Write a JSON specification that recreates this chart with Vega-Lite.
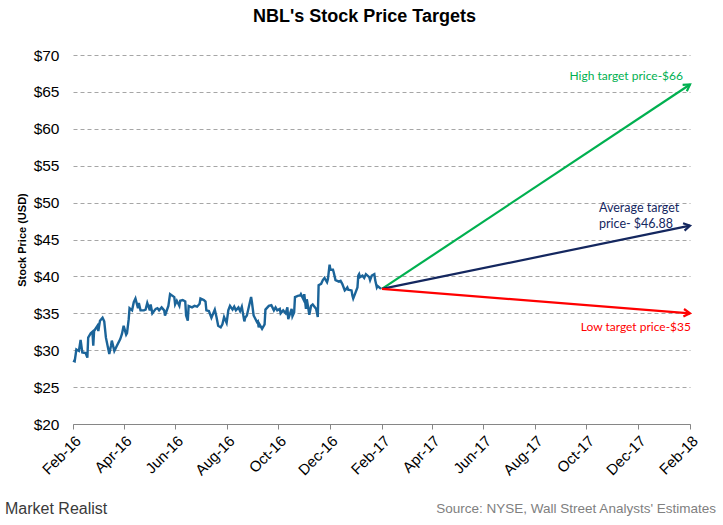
{
  "$schema": "https://vega.github.io/schema/vega-lite/v6.json",
  "width": 617,
  "height": 369,
  "autosize": "none",
  "padding": {"left": 73, "top": 55, "right": 33, "bottom": 101},
  "background": "white",
  "config": {"view": {"stroke": null}, "font": "Liberation Sans"},
  "title": {
    "text": "NBL's Stock Price Targets",
    "font": "Liberation Sans",
    "fontSize": 18,
    "fontWeight": "bold",
    "color": "#000000",
    "anchor": "middle",
    "dx": -17,
    "offset": 22
  },
  "datasets": {
    "stock": [
      {"date": "2016-02-01", "price": 28.6},
      {"date": "2016-02-03", "price": 28.5},
      {"date": "2016-02-05", "price": 30.1},
      {"date": "2016-02-08", "price": 29.9},
      {"date": "2016-02-10", "price": 31.4},
      {"date": "2016-02-12", "price": 29.7},
      {"date": "2016-02-16", "price": 29.6},
      {"date": "2016-02-18", "price": 29.0},
      {"date": "2016-02-19", "price": 31.7},
      {"date": "2016-02-22", "price": 32.3},
      {"date": "2016-02-24", "price": 32.5},
      {"date": "2016-02-25", "price": 30.6},
      {"date": "2016-02-26", "price": 32.6},
      {"date": "2016-03-01", "price": 33.3},
      {"date": "2016-03-02", "price": 32.6},
      {"date": "2016-03-04", "price": 34.0},
      {"date": "2016-03-07", "price": 34.4},
      {"date": "2016-03-09", "price": 33.9},
      {"date": "2016-03-11", "price": 31.7},
      {"date": "2016-03-15", "price": 29.5},
      {"date": "2016-03-17", "price": 30.6},
      {"date": "2016-03-18", "price": 31.3},
      {"date": "2016-03-21", "price": 29.9},
      {"date": "2016-03-24", "price": 30.6},
      {"date": "2016-03-28", "price": 31.5},
      {"date": "2016-03-30", "price": 32.2},
      {"date": "2016-04-01", "price": 33.3},
      {"date": "2016-04-04", "price": 32.1},
      {"date": "2016-04-05", "price": 32.3},
      {"date": "2016-04-07", "price": 34.2},
      {"date": "2016-04-08", "price": 35.7},
      {"date": "2016-04-11", "price": 35.4},
      {"date": "2016-04-13", "price": 36.5},
      {"date": "2016-04-15", "price": 37.0},
      {"date": "2016-04-18", "price": 35.7},
      {"date": "2016-04-19", "price": 36.4},
      {"date": "2016-04-21", "price": 35.4},
      {"date": "2016-04-25", "price": 35.4},
      {"date": "2016-04-27", "price": 35.5},
      {"date": "2016-04-29", "price": 36.4},
      {"date": "2016-05-02", "price": 35.4},
      {"date": "2016-05-03", "price": 36.2},
      {"date": "2016-05-05", "price": 35.0},
      {"date": "2016-05-09", "price": 35.6},
      {"date": "2016-05-11", "price": 35.7},
      {"date": "2016-05-13", "price": 35.4},
      {"date": "2016-05-16", "price": 35.8},
      {"date": "2016-05-19", "price": 35.4},
      {"date": "2016-05-20", "price": 34.7},
      {"date": "2016-05-24", "price": 36.0},
      {"date": "2016-05-26", "price": 37.6},
      {"date": "2016-05-31", "price": 37.2},
      {"date": "2016-06-01", "price": 36.2},
      {"date": "2016-06-03", "price": 36.7},
      {"date": "2016-06-06", "price": 36.0},
      {"date": "2016-06-07", "price": 36.7},
      {"date": "2016-06-10", "price": 36.8},
      {"date": "2016-06-13", "price": 36.6},
      {"date": "2016-06-14", "price": 34.7},
      {"date": "2016-06-16", "price": 34.0},
      {"date": "2016-06-17", "price": 36.0},
      {"date": "2016-06-21", "price": 35.8},
      {"date": "2016-06-24", "price": 36.0},
      {"date": "2016-06-27", "price": 35.9},
      {"date": "2016-06-30", "price": 36.3},
      {"date": "2016-07-01", "price": 37.0},
      {"date": "2016-07-05", "price": 36.8},
      {"date": "2016-07-07", "price": 36.6},
      {"date": "2016-07-08", "price": 35.4},
      {"date": "2016-07-11", "price": 35.3},
      {"date": "2016-07-14", "price": 34.4},
      {"date": "2016-07-18", "price": 35.5},
      {"date": "2016-07-20", "price": 34.5},
      {"date": "2016-07-22", "price": 33.3},
      {"date": "2016-07-25", "price": 33.1},
      {"date": "2016-07-27", "price": 33.5},
      {"date": "2016-07-29", "price": 34.5},
      {"date": "2016-08-01", "price": 33.7},
      {"date": "2016-08-03", "price": 35.4},
      {"date": "2016-08-05", "price": 36.0},
      {"date": "2016-08-08", "price": 35.5},
      {"date": "2016-08-10", "price": 35.9},
      {"date": "2016-08-12", "price": 35.4},
      {"date": "2016-08-15", "price": 35.8},
      {"date": "2016-08-17", "price": 35.3},
      {"date": "2016-08-19", "price": 35.9},
      {"date": "2016-08-22", "price": 33.9},
      {"date": "2016-08-23", "price": 34.4},
      {"date": "2016-08-25", "price": 34.7},
      {"date": "2016-08-26", "price": 35.2},
      {"date": "2016-08-30", "price": 37.2},
      {"date": "2016-08-31", "price": 36.5},
      {"date": "2016-09-02", "price": 34.7},
      {"date": "2016-09-06", "price": 33.8},
      {"date": "2016-09-07", "price": 33.9},
      {"date": "2016-09-08", "price": 33.1},
      {"date": "2016-09-09", "price": 33.5},
      {"date": "2016-09-12", "price": 32.9},
      {"date": "2016-09-15", "price": 33.5},
      {"date": "2016-09-16", "price": 35.5},
      {"date": "2016-09-20", "price": 36.0},
      {"date": "2016-09-23", "price": 36.1},
      {"date": "2016-09-26", "price": 35.4},
      {"date": "2016-09-28", "price": 35.8},
      {"date": "2016-09-30", "price": 35.4},
      {"date": "2016-10-03", "price": 35.6},
      {"date": "2016-10-04", "price": 35.0},
      {"date": "2016-10-07", "price": 35.4},
      {"date": "2016-10-10", "price": 35.0},
      {"date": "2016-10-12", "price": 35.8},
      {"date": "2016-10-13", "price": 34.2},
      {"date": "2016-10-17", "price": 35.6},
      {"date": "2016-10-18", "price": 34.6},
      {"date": "2016-10-20", "price": 35.1},
      {"date": "2016-10-21", "price": 37.2},
      {"date": "2016-10-25", "price": 37.4},
      {"date": "2016-10-27", "price": 37.4},
      {"date": "2016-10-28", "price": 37.6},
      {"date": "2016-10-31", "price": 36.9},
      {"date": "2016-11-01", "price": 37.6},
      {"date": "2016-11-03", "price": 35.6},
      {"date": "2016-11-04", "price": 36.9},
      {"date": "2016-11-07", "price": 34.8},
      {"date": "2016-11-09", "price": 36.0},
      {"date": "2016-11-11", "price": 36.2},
      {"date": "2016-11-15", "price": 35.6},
      {"date": "2016-11-17", "price": 34.5},
      {"date": "2016-11-18", "price": 38.8},
      {"date": "2016-11-21", "price": 39.0},
      {"date": "2016-11-23", "price": 39.5},
      {"date": "2016-11-25", "price": 39.8},
      {"date": "2016-11-28", "price": 39.2},
      {"date": "2016-11-29", "price": 39.6},
      {"date": "2016-12-01", "price": 41.6},
      {"date": "2016-12-02", "price": 40.9},
      {"date": "2016-12-05", "price": 40.9},
      {"date": "2016-12-06", "price": 40.5},
      {"date": "2016-12-08", "price": 39.5},
      {"date": "2016-12-12", "price": 39.3},
      {"date": "2016-12-14", "price": 39.4},
      {"date": "2016-12-16", "price": 39.0},
      {"date": "2016-12-19", "price": 38.1},
      {"date": "2016-12-20", "price": 38.2},
      {"date": "2016-12-22", "price": 38.5},
      {"date": "2016-12-23", "price": 38.2},
      {"date": "2016-12-27", "price": 38.1},
      {"date": "2016-12-28", "price": 37.4},
      {"date": "2016-12-29", "price": 37.0},
      {"date": "2016-12-30", "price": 37.3},
      {"date": "2017-01-03", "price": 38.5},
      {"date": "2017-01-04", "price": 40.1},
      {"date": "2017-01-05", "price": 40.3},
      {"date": "2017-01-06", "price": 39.9},
      {"date": "2017-01-09", "price": 40.1},
      {"date": "2017-01-11", "price": 39.8},
      {"date": "2017-01-13", "price": 40.3},
      {"date": "2017-01-17", "price": 39.9},
      {"date": "2017-01-18", "price": 39.5},
      {"date": "2017-01-20", "price": 40.1},
      {"date": "2017-01-23", "price": 40.3},
      {"date": "2017-01-24", "price": 39.5},
      {"date": "2017-01-26", "price": 38.5},
      {"date": "2017-01-27", "price": 38.7},
      {"date": "2017-01-31", "price": 38.3}
    ],
    "targets": [
      {"series": "High", "date": "2017-02-01", "price": 38.3},
      {"series": "High", "date": "2018-02-01", "price": 66},
      {"series": "Average", "date": "2017-02-01", "price": 38.3},
      {"series": "Average", "date": "2018-02-01", "price": 46.88},
      {"series": "Low", "date": "2017-02-01", "price": 38.3},
      {"series": "Low", "date": "2018-02-01", "price": 35}
    ]
  },
  "encoding": {
    "x": {
      "field": "date",
      "type": "temporal",
      "scale": {"type": "utc", "domain": [{"year": 2016, "month": 2, "date": 1, "utc": true}, {"year": 2018, "month": 2, "date": 1, "utc": true}]},
      "axis": {
        "title": null,
        "values": [
          {"year": 2016, "month": 2, "date": 1, "utc": true},
          {"year": 2016, "month": 4, "date": 1, "utc": true},
          {"year": 2016, "month": 6, "date": 1, "utc": true},
          {"year": 2016, "month": 8, "date": 1, "utc": true},
          {"year": 2016, "month": 10, "date": 1, "utc": true},
          {"year": 2016, "month": 12, "date": 1, "utc": true},
          {"year": 2017, "month": 2, "date": 1, "utc": true},
          {"year": 2017, "month": 4, "date": 1, "utc": true},
          {"year": 2017, "month": 6, "date": 1, "utc": true},
          {"year": 2017, "month": 8, "date": 1, "utc": true},
          {"year": 2017, "month": 10, "date": 1, "utc": true},
          {"year": 2017, "month": 12, "date": 1, "utc": true},
          {"year": 2018, "month": 2, "date": 1, "utc": true}
        ],
        "labelExpr": "utcFormat(datum.value, '%b-%y')",
        "labelAngle": -45,
        "labelFont": "Liberation Sans",
        "labelFontSize": 15,
        "labelColor": "#000000",
        "labelPadding": 4,
        "labelOverlap": false,
        "labelFlush": false,
        "domainColor": "#868686",
        "tickColor": "#868686",
        "tickSize": 5,
        "grid": false
      }
    },
    "y": {
      "field": "price",
      "type": "quantitative",
      "scale": {"domain": [20, 70], "nice": false, "zero": false},
      "axis": {
        "title": "Stock Price (USD)",
        "titleFont": "Liberation Sans",
        "titleFontSize": 11,
        "titleFontWeight": "bold",
        "titleColor": "#000000",
        "titlePadding": 6,
        "values": [20, 25, 30, 35, 40, 45, 50, 55, 60, 65, 70],
        "format": "$,.0f",
        "labelFont": "Liberation Sans",
        "labelFontSize": 15.5,
        "labelColor": "#000000",
        "labelPadding": 14,
        "domain": false,
        "ticks": false,
        "grid": true,
        "gridColor": "#a6a6a6",
        "gridDash": [4, 3],
        "gridWidth": 1
      }
    }
  },
  "layer": [
    {
      "data": {"name": "stock"},
      "mark": {"type": "line", "color": "#1b6499", "strokeWidth": 2.4, "interpolate": "linear"}
    },
    {
      "data": {"name": "targets"},
      "mark": {"type": "line", "strokeWidth": 2.2},
      "encoding": {
        "detail": {"field": "series"},
        "color": {"field": "series", "type": "nominal", "scale": {"domain": ["High", "Average", "Low"], "range": ["#00b050", "#14275f", "#ff0000"]}, "legend": null}
      }
    },
    {
      "data": {"name": "targets"},
      "transform": [{"filter": "datum.series == 'High' && datum.price != 38.3"}],
      "mark": {"type": "point", "shape": "M -1 -0.6 L 0 0 L -1 0.6", "size": 160, "filled": false, "strokeWidth": 2.2, "color": "#00b050", "opacity": 1, "angle": -33.5}
    },
    {
      "data": {"name": "targets"},
      "transform": [{"filter": "datum.series == 'Average' && datum.price != 38.3"}],
      "mark": {"type": "point", "shape": "M -1 -0.6 L 0 0 L -1 0.6", "size": 160, "filled": false, "strokeWidth": 2.2, "color": "#14275f", "opacity": 1, "angle": -11.6}
    },
    {
      "data": {"name": "targets"},
      "transform": [{"filter": "datum.series == 'Low' && datum.price != 38.3"}],
      "mark": {"type": "point", "shape": "M -1 -0.6 L 0 0 L -1 0.6", "size": 160, "filled": false, "strokeWidth": 2.2, "color": "#ff0000", "opacity": 1, "angle": 4.8}
    },
    {
      "data": {"values": [{"date": "2018-02-01", "price": 66, "label": "High target price-$66"}]},
      "mark": {"type": "text", "font": "Lato", "fontSize": 12, "color": "#00b050", "align": "right", "baseline": "middle", "dx": -7, "dy": -9},
      "encoding": {"text": {"field": "label"}}
    },
    {
      "data": {"values": [{"date": "2018-02-01", "price": 46.88, "label": "Average target\nprice- $46.88"}]},
      "mark": {"type": "text", "font": "Lato", "fontSize": 12.5, "color": "#14275f", "align": "left", "baseline": "middle", "dx": -91, "dy": -18, "lineBreak": "\n", "lineHeight": 16},
      "encoding": {"text": {"field": "label"}}
    },
    {
      "data": {"values": [{"date": "2018-02-01", "price": 35, "label": "Low target price-$35"}]},
      "mark": {"type": "text", "font": "Lato", "fontSize": 12, "color": "#ff0000", "align": "right", "baseline": "middle", "dx": 1, "dy": 14},
      "encoding": {"text": {"field": "label"}}
    },
    {
      "data": {"values": [{"label": "Market Realist"}]},
      "mark": {"type": "text", "font": "Liberation Sans", "fontSize": 16, "color": "#3a3a3a", "align": "left", "baseline": "alphabetic", "letterSpacing": -0.5},
      "encoding": {"text": {"field": "label"}, "x": {"value": -68}, "y": {"value": 459}}
    },
    {
      "data": {"values": [{"label": "Source: NYSE, Wall Street Analysts' Estimates"}]},
      "mark": {"type": "text", "font": "Liberation Sans", "fontSize": 13.5, "color": "#808080", "align": "right", "baseline": "alphabetic"},
      "encoding": {"text": {"field": "label"}, "x": {"value": 643}, "y": {"value": 458}}
    }
  ]
}
